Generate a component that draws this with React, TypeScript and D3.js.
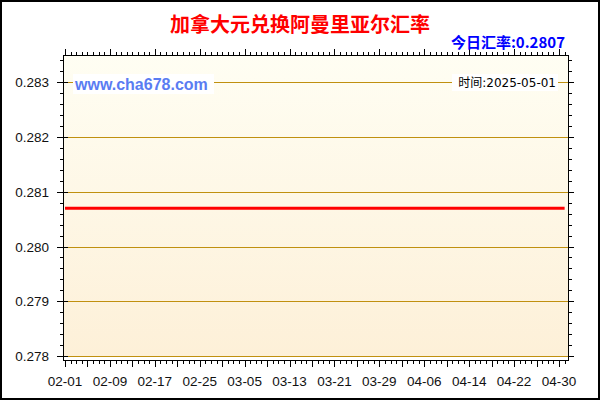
import * as d3 from 'd3';
import React from 'react';

// CAD -> OMR daily rate, 2025-02-01 .. 2025-05-01 (flat line)
const startDate = '2025-02-01';
const rates = [
  0.2807, 0.2807, 0.2807, 0.2807, 0.2807, 0.2807, 0.2807, 0.2807, 0.2807, 0.2807,
  0.2807, 0.2807, 0.2807, 0.2807, 0.2807, 0.2807, 0.2807, 0.2807, 0.2807, 0.2807,
  0.2807, 0.2807, 0.2807, 0.2807, 0.2807, 0.2807, 0.2807, 0.2807, 0.2807, 0.2807,
  0.2807, 0.2807, 0.2807, 0.2807, 0.2807, 0.2807, 0.2807, 0.2807, 0.2807, 0.2807,
  0.2807, 0.2807, 0.2807, 0.2807, 0.2807, 0.2807, 0.2807, 0.2807, 0.2807, 0.2807,
  0.2807, 0.2807, 0.2807, 0.2807, 0.2807, 0.2807, 0.2807, 0.2807, 0.2807, 0.2807,
  0.2807, 0.2807, 0.2807, 0.2807, 0.2807, 0.2807, 0.2807, 0.2807, 0.2807, 0.2807,
  0.2807, 0.2807, 0.2807, 0.2807, 0.2807, 0.2807, 0.2807, 0.2807, 0.2807, 0.2807,
  0.2807, 0.2807, 0.2807, 0.2807, 0.2807, 0.2807, 0.2807, 0.2807, 0.2807, 0.2807,
];
const xLabels = ['02-01', '02-09', '02-17', '02-25', '03-05', '03-13', '03-21', '03-29', '04-06', '04-14', '04-22', '04-30'];
const yTicks = [0.278, 0.279, 0.28, 0.281, 0.282, 0.283];

const title = '加拿大元兑换阿曼里亚尔汇率';
const todayRate = '今日汇率:0.2807';
const site = 'www.cha678.com';
const timeText = '时间:2025-05-01';

const W = 600;
const H = 400;
const left = 64, right = 568, top = 55, bottom = 356, axisY = 360;

const App = () => {
  const day0 = d3.timeParse('%Y-%m-%d')(startDate) as Date;
  const data = rates.map((v, i) => ({ date: d3.timeDay.offset(day0, i), v }));

  const x = d3.scaleTime()
    .domain([day0, d3.timeDay.offset(day0, 88)])
    .range([65, 559]);
  const y = d3.scaleLinear().domain([0.278, 0.2835]).range([bottom, top]);

  const line = d3.line<{ date: Date; v: number }>()
    .x(d => x(d.date))
    .y(d => y(d.v));

  const days = d3.range(0, 91).map(i => d3.timeDay.offset(day0, i)).filter(d => x(d) <= right);
  const minorY = d3.range(0, 28).map(i => 0.278 + i * 0.0002);
  const font = '"Liberation Sans", Arial, sans-serif';

  return (
    <svg width={W} height={H} style={{ position: 'absolute', left: 0, top: 0 }}>
      <defs>
        <linearGradient id="bg" x1="0" y1="0" x2="0" y2="1">
          <stop offset="0%" stopColor="#fffef3" />
          <stop offset="100%" stopColor="#fdf0d8" />
        </linearGradient>
      </defs>
      <rect x={0} y={0} width={W} height={H} fill="#fff" />
      <rect x={1} y={1} width={W - 2} height={H - 2} fill="none" stroke="#000" strokeWidth={2} />

      {/* plot background */}
      <rect x={left} y={top} width={right - left} height={bottom - top} fill="url(#bg)" />

      {/* grid */}
      {yTicks.map(t => (
        <line key={t} x1={left} x2={right} y1={Math.round(y(t)) + 0.5} y2={Math.round(y(t)) + 0.5} stroke="#c0900f" strokeWidth={1} />
      ))}

      {/* watermark labels */}
      <rect x={73} y={74} width={141} height={20} fill="#fff" />
      <text x={75} y={90} fontFamily={font} fontWeight="bold" fontSize={16} fill="#5a7cf2">{site}</text>
      <rect x={452} y={74} width={106} height={17} fill="#fff" />
      <text x={556} y={87} textAnchor="end" fontFamily='"DejaVu Sans", "Noto Sans CJK SC", sans-serif' fontSize={12} fill="#000">{timeText}</text>

      {/* series */}
      <path d={line(data) || ''} fill="none" stroke="#ff0000" strokeWidth={3} />

      {/* frame / axes */}
      <line x1={left} x2={right} y1={top + 0.5} y2={top + 0.5} stroke="#000" />
      <line x1={left - 0.5} x2={left - 0.5} y1={top} y2={axisY + 1} stroke="#000" />
      <line x1={right + 0.5} x2={right + 0.5} y1={top} y2={axisY + 1} stroke="#000" />
      <line x1={left} x2={right + 1} y1={axisY + 0.5} y2={axisY + 0.5} stroke="#000" />

      {/* top ticks */}
      {days.map((d, i) => (
        <line key={'t' + i} x1={Math.round(x(d)) + 0.5} x2={Math.round(x(d)) + 0.5} y1={top} y2={top - (i % 8 === 0 ? 6 : 3)} stroke="#000" />
      ))}
      {/* bottom ticks */}
      {days.map((d, i) => (
        <line key={'b' + i} x1={Math.round(x(d)) + 0.5} x2={Math.round(x(d)) + 0.5} y1={axisY} y2={axisY + (i % 4 === 0 ? 7 : 4)} stroke="#000" />
      ))}
      {/* left / right ticks */}
      {minorY.map((t, i) => {
        const yy = Math.round(y(t)) + 0.5;
        const major = i % 5 === 0;
        return (
          <g key={'y' + i}>
            <line x1={major ? left - 7 : left - 4} x2={major ? left + 4 : left} y1={yy} y2={yy} stroke="#000" />
            <line x1={right} x2={right + (major ? 6 : 4)} y1={yy} y2={yy} stroke="#000" />
          </g>
        );
      })}

      {/* y labels */}
      {yTicks.map(t => (
        <text key={'yl' + t} x={49} y={y(t) + 5} textAnchor="end" fontFamily={font} fontSize={13.5} fill="#111">{d3.format('.3f')(t)}</text>
      ))}
      {/* x labels */}
      {xLabels.map((l, i) => (
        <text key={l} x={x(d3.timeDay.offset(day0, i * 8))} y={386} textAnchor="middle" fontFamily={font} fontSize={13.5} fill="#111">{l}</text>
      ))}

      {/* titles */}
      <text x={300} y={32} textAnchor="middle" fontFamily='"Noto Sans CJK SC", sans-serif' fontWeight="bold" fontSize={20} fill="#ff0000">{title}</text>
      <text x={565} y={48} textAnchor="end" fontFamily='"Noto Sans CJK SC", sans-serif' fontWeight="bold" fontSize={15} fill="#0000ff">{todayRate}</text>
    </svg>
  );
};

export default App;
